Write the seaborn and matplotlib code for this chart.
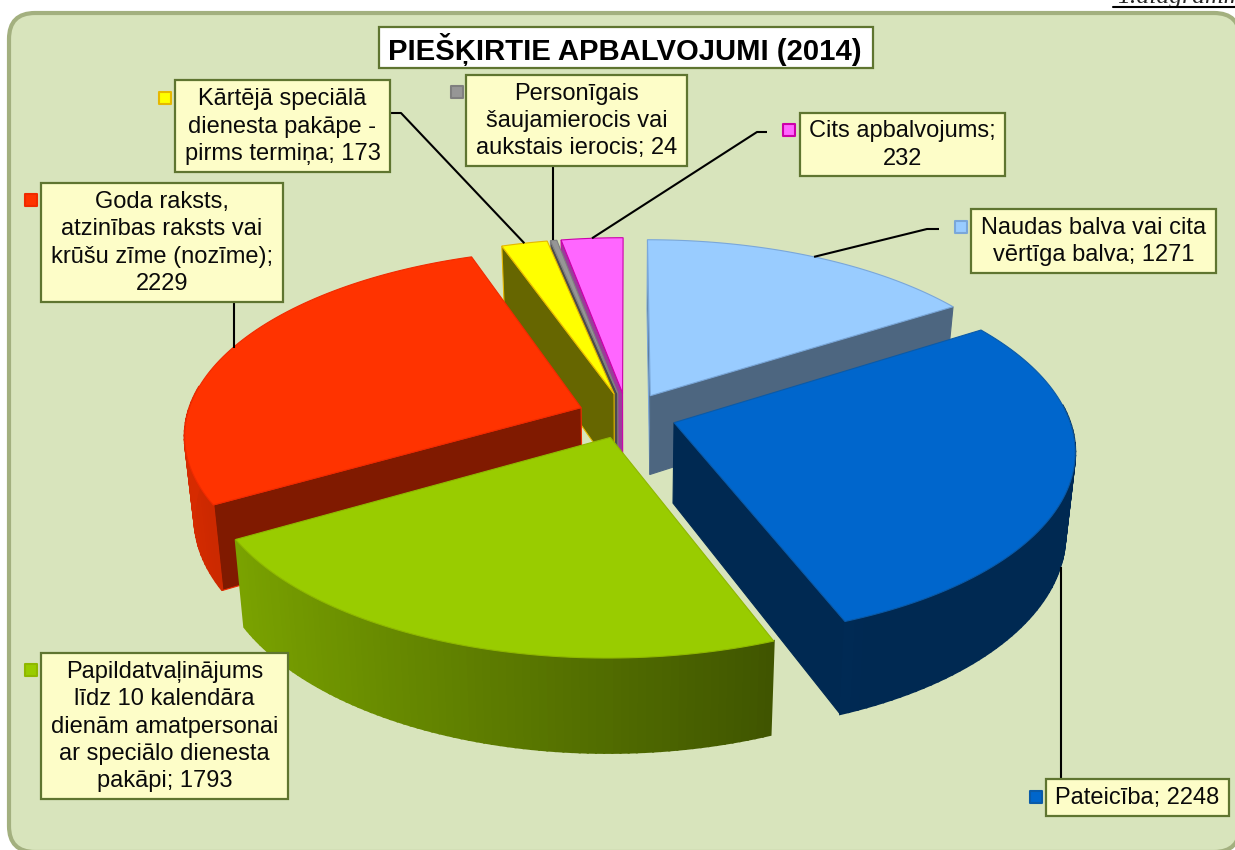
import numpy as np
import pandas as pd
import seaborn as sns
import matplotlib.pyplot as plt
from matplotlib.colors import to_rgb
from matplotlib.patches import FancyBboxPatch, Rectangle

# chart values, clockwise from 12 o'clock
categories = ['Naudas balva vai cita\nvērtīga balva',
              'Pateicība',
              'Papildatvaļinājums\nlīdz 10 kalendāra\ndienām amatpersonai\nar speciālo dienesta\npakāpi',
              'Goda raksts,\natzinības raksts vai\nkrūšu zīme (nozīme);\n',
              'Kārtējā speciālā\ndienesta pakāpe -\npirms termiņa',
              'Personīgais\nšaujamierocis vai\naukstais ierocis',
              'Cits apbalvojums;\n']
values = [1271, 2248, 1793, 2229, 173, 24, 232]
title = 'PIEŠĶIRTIE APBALVOJUMI (2014)'
page_note = '1.diagramma'

# styles
top_colors = ['#99ccff', '#0066cc', '#99cc00', '#ff3300', '#ffff00', '#969696', '#ff66ff']
edge_colors = ['#7aa7d9', '#0a5aa8', '#8fb800', '#f02a00', '#e6b800', '#7f7f7f', '#cc00aa']
side_shades = [0.5, 0.4, 0.5, 0.5, 0.4, 0.5, 0.6]
draw_order = [0, 6, 5, 4, 3, 1, 2]

# layout of the label boxes in pixels: left, top, right, bottom
boxes = [(971, 209, 1216, 273), (1046, 779, 1229, 816), (41, 653, 288, 799),
         (41, 183, 283, 302), (175, 80, 390, 172), (466, 75, 687, 166), (800, 113, 1005, 176)]
key_x = [961, 1036, 31, 31, 165, 457, 789]
key_y = [227, 797, 670, 200, 98, 92, 130]
# leader lines start at the box and end on the slice
leader_knots = [[(939, 229), (927, 229)], [(1061, 779)], [], [(234, 302)],
                [(390, 113), (401, 113)], [(553, 166)], [(767, 132), (757, 132)]]

# pie projection
CX, CY = 627, 415.5
A, B = 394, 183
K = 0.14
EXPLODE = 0.125
DEPTH = 80
LOW_SCALE = 0.978


def project(px, py, low=False):
    s = 1 / (1 + K * py)
    x = CX + A * px * s
    y = CY - B * py * s
    if low:
        x = CX + (x - CX) * LOW_SCALE
        y = y + DEPTH * s
    return x, y


def shaded(color, f):
    return tuple(c * f for c in to_rgb(color))


sns.set_theme(style="white")
plt.rcParams['font.family'] = ['Liberation Sans', 'DejaVu Sans']

fig = plt.figure(figsize=(12.35, 8.5), dpi=100, facecolor='white')
ax = fig.add_axes([0, 0, 1, 1])
ax.add_patch(FancyBboxPatch((9, 13), 1231, 839, boxstyle='round,pad=0,rounding_size=26',
                            facecolor='#d8e4bc', edgecolor='#a3b07f', linewidth=3, zorder=0))

df = pd.DataFrame({'category': categories, 'value': values})
df['sweep'] = df['value'] / df['value'].sum() * 2 * np.pi
df['end'] = df['sweep'].cumsum()
df['start'] = df['end'] - df['sweep']
df['mid'] = (df['start'] + df['end']) / 2

anchors = {}
z = 2
for i in draw_order:
    row = df.iloc[i]
    ox = EXPLODE * np.sin(row['mid'])
    oy = EXPLODE * np.cos(row['mid'])
    th = np.linspace(row['start'], row['end'], 80)
    ax_pts = project(np.sin(th) + ox, np.cos(th) + oy)
    low_pts = project(np.sin(th) + ox, np.cos(th) + oy, low=True)
    ax0 = project(ox, oy)
    ax0_low = project(ox, oy, low=True)
    side = shaded(top_colors[i], side_shades[i])

    # cut faces that look towards the viewer
    if np.sin(row['start']) <= 0.01:
        ax.fill([ax0[0], ax_pts[0][0], low_pts[0][0], ax0_low[0]],
                [ax0[1], ax_pts[1][0], low_pts[1][0], ax0_low[1]],
                facecolor=side, edgecolor=edge_colors[i], linewidth=0.8, zorder=z)
    if np.sin(row['end']) > 0.01:
        ax.fill([ax0[0], ax_pts[0][-1], low_pts[0][-1], ax0_low[0]],
                [ax0[1], ax_pts[1][-1], low_pts[1][-1], ax0_low[1]],
                facecolor=side, edgecolor=side, linewidth=0.8, zorder=z)

    # outer wall, darker to the right
    for j in range(len(th) - 1):
        if np.cos(th[j]) < 0.1:
            f = np.clip(0.53 - 0.31 * np.sin(th[j]), 0.4, 0.9)
            col = shaded(top_colors[i], f)
            ax.fill([ax_pts[0][j], ax_pts[0][j + 1], low_pts[0][j + 1], low_pts[0][j]],
                    [ax_pts[1][j], ax_pts[1][j + 1], low_pts[1][j + 1], low_pts[1][j]],
                    facecolor=col, edgecolor=col, linewidth=1.5, zorder=z)

    # top of the slice
    ax.fill(np.r_[ax0[0], ax_pts[0]], np.r_[ax0[1], ax_pts[1]],
            facecolor=top_colors[i], edgecolor=edge_colors[i], linewidth=0.8, zorder=z + 1)
    z += 2
    anchors[i] = project(np.sin(row['mid']) + ox, np.cos(row['mid']) + oy, low=(i == 1))

# leader lines, the ones with a single knot stay vertical
for i, knots in enumerate(leader_knots):
    if knots:
        end = (knots[0][0], anchors[i][1]) if len(knots) == 1 else anchors[i]
        pts = knots + [end]
        ax.plot([p[0] for p in pts], [p[1] for p in pts], color='black', lw=1.5,
                solid_capstyle='butt', zorder=30)

# label boxes
for i, (l, t, r, b) in enumerate(boxes):
    ax.add_patch(Rectangle((l, t), r - l, b - t, facecolor='#fdfdc8', edgecolor='#5f7530',
                           linewidth=1.6, zorder=31))
    sep = '' if categories[i].endswith('\n') else '; '
    ax.text((l + r) / 2, (t + b) / 2 + 0.5, f'{categories[i]}{sep}{values[i]}', ha='center',
            va='center', fontsize=17, linespacing=1.32, color='#0a0a0a', zorder=32)

# legend keys
keys = pd.DataFrame({'x': key_x, 'y': key_y, 'category': categories})
sns.scatterplot(data=keys, x='x', y='y', hue='category', palette=dict(zip(categories, top_colors)),
                marker='s', s=75, edgecolor=edge_colors, linewidth=1.5, legend=False, ax=ax, zorder=33)

# title
ax.add_patch(Rectangle((379, 27), 494, 41, facecolor='white', edgecolor='#5f7530', linewidth=1.6, zorder=31))
ax.text(625, 49, title, ha='center', va='center', fontsize=21.1, fontweight='bold', color='black', zorder=32)

# page note, cut by the top edge as in the source page
ax.text(1117, 3, page_note, fontsize=18.5, style='italic', family='Liberation Serif', va='baseline', zorder=40)
ax.plot([1113, 1235], [7, 7], color='black', lw=1.5, zorder=40)

ax.set_xlim(0, 1235)
ax.set_ylim(850, 0)
ax.axis('off')

plt.savefig('out.png', dpi=100)
